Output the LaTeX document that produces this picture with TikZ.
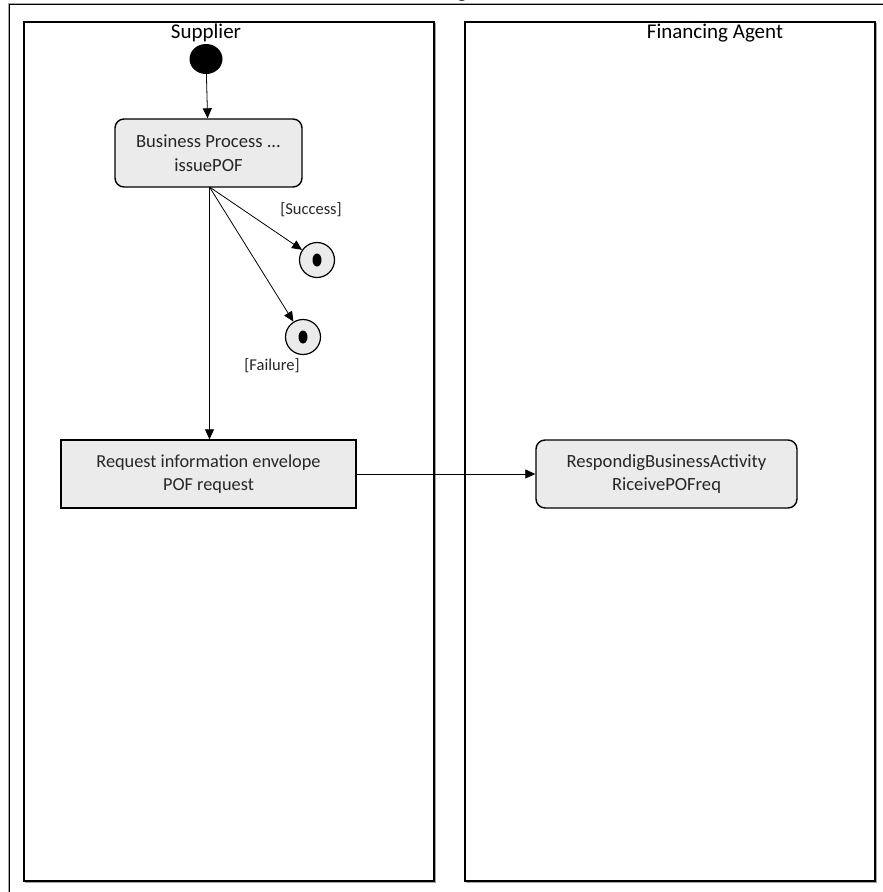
\documentclass[tikz,border=0pt]{standalone}
\usepackage{fontspec}
\setmainfont{Carlito}
\usetikzlibrary{arrows.meta,shapes.geometric}
\tikzset{
  lane/.style={draw=black,line width=1.3pt},
  laneshadow/.style={draw=black!35,line width=1pt},
  actbox/.style={draw=black,line width=1.4pt,fill=black!8,rounded corners=9pt,minimum width=187pt,minimum height=68pt,align=center,font=\fontsize{18.6}{23.5}\selectfont,text=black!85,inner sep=0pt},
  rectbox/.style={draw=black,line width=1.4pt,fill=black!8,minimum width=295pt,minimum height=68pt,align=center,font=\fontsize{18.3}{23.5}\selectfont,text=black!85,inner sep=0pt},
  finalnode/.style={circle,draw=black,line width=1.2pt,fill=black!8,minimum size=35pt,inner sep=0pt},
  flow/.style={draw=black,line width=0.8pt,-{Triangle[length=10pt,width=9pt]}},
  guard/.style={font=\fontsize{16.5}{19}\selectfont,text=black!85,inner sep=0pt},
  lanelabel/.style={font=\fontsize{21}{25}\selectfont,inner sep=0pt}
}
\begin{document}
\begin{tikzpicture}[x=1pt,y=-1pt]
\useasboundingbox (0,0) rectangle (883,892);
\begin{scope}
\clip (0,0) rectangle (883,892);
% outer frame
\draw[black!35,line width=1pt] (8,900) -- (8,3) -- (900,3);
\draw[black,line width=1.3pt] (9.5,900) -- (9.5,4.5) -- (900,4.5);
% partial title (cut off at the top edge, as in the reference)
\node[anchor=base,font=\fontsize{22}{26}\selectfont,inner sep=0pt] (title) at (462,-2.5) {g};
% lanes
\draw[laneshadow] (435.5,23) -- (435.5,882.5) -- (25,882.5);
\draw[lane] (24,22) rectangle (434,881);
\draw[laneshadow] (876.5,23) -- (876.5,882.5) -- (466,882.5);
\draw[lane] (465,22) rectangle (875,881);
\end{scope}
\node[lanelabel] (lsup) at (206,33) {Supplier};
\node[lanelabel] (lfin) at (715,33) {Financing Agent};
% start
\node[ellipse,fill=black,minimum width=33pt,minimum height=30pt,inner sep=0pt] (start) at (206,59) {};
% activities
\node[actbox] (bp) at (208.5,153) {Business Process ...\\issuePOF};
\node[rectbox] (req) at (208.5,474) {Request information envelope\\POF request};
\node[actbox,minimum width=261pt] (resp) at (666.5,474) {RespondigBusinessActivity\\RiceivePOFreq};
% final nodes
\node[finalnode] (succ) at (317,260) {};
\node[ellipse,fill=black,minimum width=9pt,minimum height=13pt,inner sep=0pt] (succin) at (317,260) {};
\node[finalnode] (fail) at (303,337) {};
\node[ellipse,fill=black,minimum width=9pt,minimum height=13pt,inner sep=0pt] (failin) at (303,337) {};
% guards
\node[guard] (gs) at (311,210) {[Success]};
\node[guard] (gf) at (272,366) {[Failure]};
% flows
\coordinate (bpout) at (209.5,187);
\draw[flow] (start) -- (bp);
\draw[flow] (bpout) -- (succ);
\draw[flow] (bpout) -- (fail);
\draw[flow] (bpout) -- (req.north -| bpout);
\draw[flow] (req) -- (resp);
\end{tikzpicture}
\end{document}
